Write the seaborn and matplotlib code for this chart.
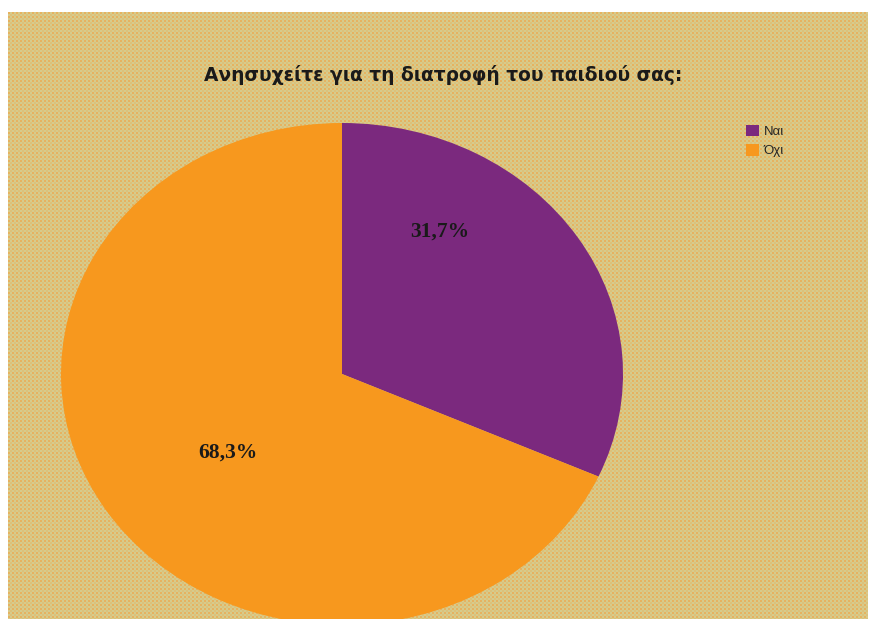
import numpy as np
import matplotlib
matplotlib.use("Agg")
import matplotlib.pyplot as plt
import seaborn as sns

# Survey answers and their shares (%)
categories = ["Ναι", "Όχι"]
shares = [31.7, 68.3]
pct_labels = ["31,7%", "68,3%"]
title = "Ανησυχείτε για τη διατροφή του παιδιού σας:"

sns.set_theme(style="white")
plt.rcParams["font.family"] = ["Liberation Sans", "DejaVu Sans"]

colors = ["#7B297E", "#F7981E"]

W, H = 870, 619
fig = plt.figure(figsize=(W / 100, H / 100), dpi=100)
fig.patch.set_facecolor("white")

# Textured tan panel behind the chart
bx0, by_top = 8, 12
bw, bh = 860, H - by_top
bg = fig.add_axes([bx0 / W, 0, bw / W, bh / H])
tan = np.array([214, 203, 140]) / 255
dot = np.array([230, 178, 96]) / 255
yy, xx = np.mgrid[0:bh, 0:bw]
mask = ((xx % 4) < 2) & ((yy % 4) < 2)
mask2 = ((xx % 4) >= 2) & ((yy % 4) >= 2)
tex = np.empty((bh, bw, 3))
tex[:] = tan
tex[mask] = dot
tex[mask2] = tan * 0.6 + dot * 0.4
bg.imshow(tex, interpolation="nearest", aspect="auto")
bg.set_axis_off()

# Pie axes: horizontally stretched circle
cx, cy = 342, 374
rx, ry = 281, 251
ax = fig.add_axes([(cx - rx) / W, (H - cy - ry) / H, 2 * rx / W, 2 * ry / H])
wedges, _ = ax.pie(shares, colors=colors, startangle=90, counterclock=False,
                   radius=1.0, wedgeprops=dict(edgecolor="none", linewidth=0))
ax.set_aspect("auto")
ax.set_xlim(-1, 1)
ax.set_ylim(-1, 1)
ax.set_axis_off()

label_pos = [(0.349, 0.566), (-0.406, -0.315)]
for (lx, ly), txt in zip(label_pos, pct_labels):
    ax.text(lx, ly, txt, ha="center", va="center", fontsize=15.5,
            fontweight="bold", family="Liberation Serif", color="#1a1a1a")

fig.text(443 / W, 1 - 75 / H, title, ha="center", va="center",
         fontsize=13.4, fontweight="bold", family="DejaVu Sans", color="#1a1a1a")

fig.legend(wedges, categories, loc="upper left",
           bbox_to_anchor=(746 / W, 1 - 125 / H), frameon=False,
           fontsize=9.5, handlelength=0.95, handleheight=0.95,
           handletextpad=0.4, labelspacing=0.45, borderpad=0, borderaxespad=0)

fig.savefig("out.png", dpi=100)
